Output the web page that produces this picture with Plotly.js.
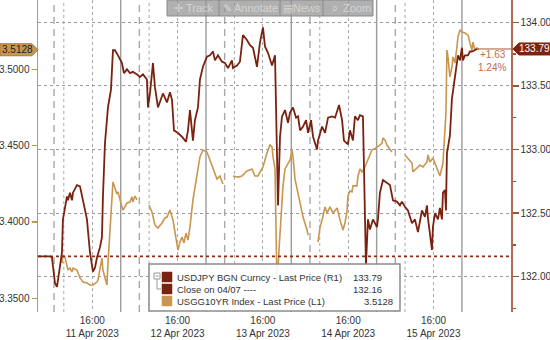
<!DOCTYPE html>
<html>
<head>
<meta charset="utf-8">
<script src="https://cdn.plot.ly/plotly-3.0.1.min.js"></script>
<style>html,body{margin:0;padding:0;background:#fff;}#chart{width:550px;height:340px;}</style>
</head>
<body>
<div id="chart"></div>
<script>
// ---- Data (hours since 2023-04-11 00:00) ----
const jpyHours = [0.73,2.70,4.11,4.67,5.51,6.08,6.36,7.48,7.76,8.33,8.89,9.17,9.73,10.30,10.58,11.70,12.55,13.39,14.51,15.36,16.20,16.77,17.33,18.17,18.73,19.01,19.58,20.42,21.27,21.83,22.39,23.24,24.36,24.92,25.77,26.61,27.45,28.58,29.42,30.27,31.39,31.67,32.24,33.08,33.64,34.49,35.61,35.89,37.02,37.86,38.43,38.99,40.11,41.24,42.36,42.93,43.49,44.33,44.89,45.74,46.30,47.14,48.27,49.11,49.96,50.52,51.36,52.49,53.33,54.18,55.30,55.58,56.71,57.55,58.40,59.52,60.37,61.21,62.34,63.18,64.03,64.59,65.44,66.57,67.41,67.69,67.97,68.26,68.82,69.38,70.23,71.07,71.64,72.48,73.33,73.89,74.46,75.30,76.15,76.71,77.55,78.12,79.24,79.52,80.65,81.49,82.33,83.46,84.30,85.43,86.28,86.81,87.93,88.50,89.34,89.90,90.75,91.31,92.15,92.50,93.00,93.56,94.12,94.97,96.09,96.37,96.93,97.78,98.90,99.75,100.59,101.72,102.56,103.12,103.97,104.81,105.94,106.78,107.62,108.75,109.59,110.16,110.44,111.00,111.56,111.84,112.41,113.25,113.81,114.37,114.66,115.22,115.50,115.78,116.62,117.19,118.03,118.59,118.88,119.44,120.00,120.28,120.84,121.69,122.25,122.81,123.66,124.22];
const jpyValues = [132.16,132.16,132.16,132.15,131.95,131.92,131.97,132.19,132.45,132.55,132.63,132.60,132.66,132.60,132.66,132.72,132.71,132.60,132.45,132.19,132.04,132.07,132.15,132.23,132.31,132.63,133.05,133.33,133.47,133.78,133.78,133.74,133.68,133.60,133.63,133.60,133.61,133.59,133.57,133.59,133.55,133.33,133.44,133.68,133.49,133.33,133.41,133.44,133.37,133.45,133.39,133.15,133.13,133.10,133.06,133.15,133.31,133.07,133.23,133.33,133.55,133.65,133.73,133.74,133.77,133.70,133.74,133.69,133.68,133.64,133.70,133.64,133.66,133.69,133.90,133.86,133.82,133.80,133.65,133.84,133.96,133.81,133.76,133.66,133.74,133.41,132.89,132.56,133.10,133.26,133.31,133.21,133.29,133.33,133.25,133.26,133.15,133.18,133.23,133.13,133.23,133.10,133.00,133.07,133.18,133.13,133.25,133.26,133.25,133.35,133.23,133.07,133.04,133.15,133.07,133.26,133.23,133.27,133.26,132.80,132.09,132.45,132.37,132.45,132.39,132.45,132.66,132.76,132.74,132.72,132.60,132.59,132.56,132.59,132.55,132.52,132.42,132.45,132.35,132.52,132.47,132.56,132.46,132.31,132.21,132.39,132.50,132.45,132.54,132.45,132.66,132.68,132.52,132.97,133.11,133.40,133.57,133.69,133.74,133.70,133.80,133.70,133.74,133.74,133.77,133.77,133.78,133.79];

const ustHours = [7.48,7.76,8.33,8.89,9.17,9.73,10.30,10.58,11.70,12.55,13.39,14.51,15.36,16.20,17.33,17.61,18.17,18.73,19.01,19.58,20.14,20.42,20.98,21.55,21.83,22.95,23.24,24.36,24.64,25.77,26.61,27.17,27.45,28.02,28.58,30.0,
  31.95,32.80,33.64,34.49,35.61,36.46,37.02,37.86,38.71,39.83,40.11,40.68,41.24,41.80,42.36,42.93,43.49,44.33,45.46,46.30,47.14,48.27,49.11,49.96,51.08,51.93,52.77,54.0,
  55.58,56.99,58.11,59.52,60.93,61.77,62.62,64.03,65.15,66.00,66.57,66.85,67.41,67.69,67.97,68.54,69.66,70.23,70.79,71.64,72.20,72.48,73.04,73.61,74.46,75.30,76.43,76.71,78.0,
  79.52,80.08,80.65,81.49,82.05,82.90,83.74,84.87,85.72,86.53,87.09,87.65,87.93,88.50,89.06,89.34,90.46,90.75,91.31,91.87,92.70,93.56,94.69,95.81,96.93,97.50,97.78,98.34,98.90,99.75,100.31,102.0,
  103.97,104.81,105.94,106.22,107.34,108.18,109.03,110.16,110.44,111.00,111.84,112.97,113.81,114.66,115.50,115.78,116.06,116.62,117.19,117.47,118.03,118.59,118.88,119.44,120.00,120.84,121.69,122.25,122.81,123.09,123.66,124.22,124.78];
const ustValues = [3.3730,3.3783,3.3770,3.3704,3.3685,3.3698,3.3672,3.3698,3.3685,3.3633,3.3606,3.3600,3.3587,3.3587,3.3606,3.3620,3.3685,3.3763,3.3685,3.3639,3.3587,3.3730,3.3947,3.4124,3.4262,3.4183,3.4197,3.4098,3.4078,3.4124,3.4130,3.4164,3.4130,3.4170,3.4144,null,
  3.4111,3.4065,3.3980,3.3960,3.3993,3.4026,3.4032,3.4078,3.4012,3.3835,3.3816,3.3868,3.3901,3.3862,3.3927,3.3881,3.3967,3.4144,3.4301,3.4426,3.4471,3.4458,3.4406,3.4347,3.4281,3.4301,3.4249,null,
  3.4301,3.4294,3.4301,3.4334,3.4347,3.4301,3.4301,3.4360,3.4452,3.4504,3.4491,3.4426,3.4347,3.3901,3.3574,3.3816,3.4236,3.4347,3.4373,3.4406,3.4471,3.4426,3.4281,3.4216,3.4124,3.4032,3.3947,3.3914,null,
  3.3868,3.3967,3.4012,3.4098,3.4059,3.4098,3.4059,3.4091,3.4012,3.3947,3.3993,3.4065,3.4170,3.4203,3.4197,3.4236,3.4236,3.4301,3.4347,3.4327,3.4360,3.4406,3.4471,3.4484,3.4504,3.4515,3.4550,3.4537,3.4504,3.4471,3.4458,null,
  3.4439,3.4419,3.4386,3.4327,3.4353,3.4373,3.4360,3.4393,3.4439,3.4393,3.4419,3.4353,3.4301,3.4386,3.4714,3.5126,3.5081,3.4950,3.5015,3.5081,3.5041,3.5146,3.5212,3.5258,3.5244,3.5238,3.5225,3.5172,3.5126,3.5179,3.5126,3.5140,3.5128];

const closeValue = 132.16;
const jpyLast = 133.79;
const ustLast = 3.5128;
const jpyChange = "+1.63";
const jpyChangePct = "1.24%";

const tickHours = [16, 40, 64, 88, 112];
const tickText = ["16:00<br>11 Apr 2023","16:00<br>12 Apr 2023","16:00<br>13 Apr 2023","16:00<br>14 Apr 2023","16:00<br>15 Apr 2023"];
const midnightHours = [24, 48, 72, 96, 120];
const openHours = [8, 32, 56, 80, 104];
const breakHours = [5.25, 29.25, 53.25, 77.25, 101.25];
const rangeHours = [0.74, 133.8];

const legendNames = ["USDJPY BGN Curncy - Last Price (R1)", "Close on 04/07 ----", "USGG10YR Index - Last Price (L1)"];
const legendValues = ["133.79", "132.16", "3.5128"];

// ---- helpers ----
const base = Date.UTC(2023, 3, 11);
const t = h => new Date(base + h * 3600000).toISOString().slice(0, 19).replace('T', ' ');

const RED = '#7a2210', TAN = '#c8964f', FONT = 'Liberation Sans, Arial, sans-serif';
const xr = rangeHours.map(t);

const traces = [
  {x: ustHours.map(t), y: ustValues, yaxis: 'y', type: 'scatter', mode: 'lines',
   line: {color: TAN, width: 1.6}, connectgaps: false},
  {x: [t(rangeHours[0]), t(rangeHours[1])], y: [closeValue, closeValue], yaxis: 'y2', mode: 'lines',
   line: {color: '#8b2a15', width: 1.8, dash: 'dot'}},
  {x: jpyHours.map(t), y: jpyValues, yaxis: 'y2', type: 'scatter', mode: 'lines',
   line: {color: RED, width: 1.8}},
  {x: [t(jpyHours[jpyHours.length - 1]), t(rangeHours[1])], y: [jpyLast, jpyLast], yaxis: 'y2', mode: 'lines',
   line: {color: '#a55a3c', width: 1}}
];

const shapes = [];
midnightHours.forEach(h => shapes.push({type: 'line', xref: 'x', yref: 'paper', x0: t(h), x1: t(h), y0: 0, y1: 1, layer: 'below', line: {color: '#9c9c9c', width: 1.4}}));
openHours.forEach(h => shapes.push({type: 'line', xref: 'x', yref: 'paper', x0: t(h), x1: t(h), y0: 0, y1: 1, layer: 'below', line: {color: '#a8a8a8', width: 1, dash: 'dot'}}));
breakHours.forEach(h => shapes.push({type: 'line', xref: 'x', yref: 'paper', x0: t(h), x1: t(h), y0: 0, y1: 1, layer: 'below', line: {color: '#a8a8a8', width: 1.4, dash: '7px,5px'}}));

// legend box
const PW = 473, PH = 312, L = 38;
const px = x => (x - L) / PW, py = y => (PH - y) / PH;
shapes.push({type: 'rect', xref: 'paper', yref: 'paper', x0: px(149), x1: px(400), y0: py(311), y1: py(264), layer: 'above', fillcolor: 'rgba(255,255,255,0.93)', line: {color: '#8c8c8c', width: 1.5}});
const swColors = [RED, RED, TAN];
const rowY = [277, 289, 301];
rowY.forEach((y, i) => shapes.push({type: 'rect', xref: 'paper', yref: 'paper', x0: px(162), x1: px(172), y0: py(y + 5), y1: py(y - 5), layer: 'above', fillcolor: swColors[i], line: {color: swColors[i], width: 0.5}}));
shapes.push({type: 'rect', xref: 'paper', yref: 'paper', x0: px(154), x1: px(160), y0: py(279), y1: py(273), layer: 'above', line: {color: '#999', width: 1}});
shapes.push({type: 'line', xref: 'paper', yref: 'paper', x0: px(155.5), x1: px(158.5), y0: py(276), y1: py(276), layer: 'above', line: {color: '#999', width: 1}});
shapes.push({type: 'path', xref: 'paper', yref: 'paper', path: `M ${px(157)} ${py(279)} L ${px(157)} ${py(289)} L ${px(161)} ${py(289)}`, layer: 'above', line: {color: '#999', width: 1}});
// toolbar
shapes.push({type: 'rect', xref: 'paper', yref: 'paper', x0: px(167), x1: px(373), y0: py(16), y1: py(0), layer: 'above', fillcolor: 'rgba(150,150,150,0.75)', line: {color: '#8a8a8a', width: 1}});
[219, 280, 323].forEach(x => shapes.push({type: 'line', xref: 'paper', yref: 'paper', x0: px(x), x1: px(x), y0: py(16), y1: py(0), layer: 'above', line: {color: '#888', width: 1}}));
// price tags
shapes.push({type: 'path', xref: 'paper', yref: 'y', xsizemode: 'pixel', ysizemode: 'pixel', xanchor: 0, yanchor: ustLast,
  path: 'M -38 -6 L -6 -6 L 0 0 L -6 6 L -38 6 Z', fillcolor: TAN, line: {color: '#a87a3a', width: 1}, layer: 'above'});
shapes.push({type: 'path', xref: 'paper', yref: 'y2', xsizemode: 'pixel', ysizemode: 'pixel', xanchor: 1, yanchor: jpyLast,
  path: 'M 2 0 L 8 -6 L 40 -6 L 40 6 L 8 6 Z', fillcolor: '#7a2410', line: {color: '#7a2410', width: 1}, layer: 'above'});

const annotations = [];
legendNames.forEach((n, i) => annotations.push({xref: 'paper', yref: 'paper', x: px(175), y: py(rowY[i]), xanchor: 'left', yanchor: 'middle', text: n, showarrow: false, font: {family: FONT, size: 9.5, color: '#333'}}));
const valRight = [384, 384, 395];
legendValues.forEach((v, i) => annotations.push({xref: 'paper', yref: 'paper', x: px(valRight[i]), y: py(rowY[i]), xanchor: 'right', yanchor: 'middle', text: v, showarrow: false, font: {family: FONT, size: 9.5, color: '#333'}}));
const tb = [['\u271B', 178], ['Track', 200], ['\u270E', 227], ['Annotate', 256], ['\u25A4', 288], ['News', 307], ['\u2315', 335], ['Zoom', 357]];
tb.forEach(([s, x]) => annotations.push({xref: 'paper', yref: 'paper', x: px(x), y: py(8), xanchor: 'center', yanchor: 'middle', text: s, showarrow: false, font: {family: FONT, size: 11, color: '#d4d4d4'}}));
annotations.push({xref: 'paper', yref: 'y', x: 0, xshift: -21, y: ustLast, xanchor: 'center', yanchor: 'middle', text: '3.5128', showarrow: false, font: {family: FONT, size: 10, color: '#222'}});
annotations.push({xref: 'paper', yref: 'y2', x: 1, xshift: 23, y: jpyLast, xanchor: 'center', yanchor: 'middle', text: '133.79', showarrow: false, font: {family: FONT, size: 10, color: '#fff'}});
annotations.push({xref: 'paper', yref: 'y2', x: 1, xshift: -3, y: jpyLast, yshift: -6, xanchor: 'right', yanchor: 'middle', text: jpyChange, showarrow: false, font: {family: FONT, size: 10, color: '#b8704a'}});
annotations.push({xref: 'paper', yref: 'y2', x: 1, xshift: -3, y: jpyLast, yshift: -19, xanchor: 'right', yanchor: 'middle', text: jpyChangePct, showarrow: false, font: {family: FONT, size: 10, color: '#b8704a'}});

const layout = {
  width: 550, height: 340,
  margin: {l: 38, r: 39, t: 0, b: 28},
  paper_bgcolor: '#fff', plot_bgcolor: '#fff',
  showlegend: false,
  font: {family: FONT, size: 10, color: '#333'},
  xaxis: {type: 'date', range: xr, tickvals: tickHours.map(t), ticktext: tickText, showgrid: true, griddash: 'dot', gridcolor: '#a8a8a8', gridwidth: 1,
    showline: false, zeroline: false, ticks: '', ticklabelstandoff: 1, tickfont: {family: FONT, size: 10, color: '#333'}},
  yaxis: {range: [3.341, 3.5454], tickvals: [3.35, 3.40, 3.45, 3.50], tickformat: '.4f', showgrid: false, zeroline: false,
    showline: true, linecolor: TAN, linewidth: 1.5, ticks: 'outside', ticklen: 5, tickwidth: 1.5, tickcolor: TAN,
    tickfont: {family: FONT, size: 10, color: '#333'}},
  yaxis2: {overlaying: 'y', side: 'right', range: [131.722, 134.175], dtick: 0.5, tick0: 132, tickformat: '.2f',
    showgrid: true, griddash: 'dot', gridcolor: '#9a9a9a', gridwidth: 1, zeroline: false,
    showline: true, linecolor: '#b06a50', linewidth: 1.5, ticks: 'outside', ticklen: 6, tickwidth: 1.5, tickcolor: '#a0503a',
    minor: {dtick: 0.25, ticks: 'outside', ticklen: 3, tickcolor: '#a0503a', showgrid: false},
    tickfont: {family: FONT, size: 10, color: '#333'}},
  shapes: shapes, annotations: annotations
};

Plotly.newPlot('chart', traces, layout, {staticPlot: true, displayModeBar: false});
</script>
</body>
</html>
